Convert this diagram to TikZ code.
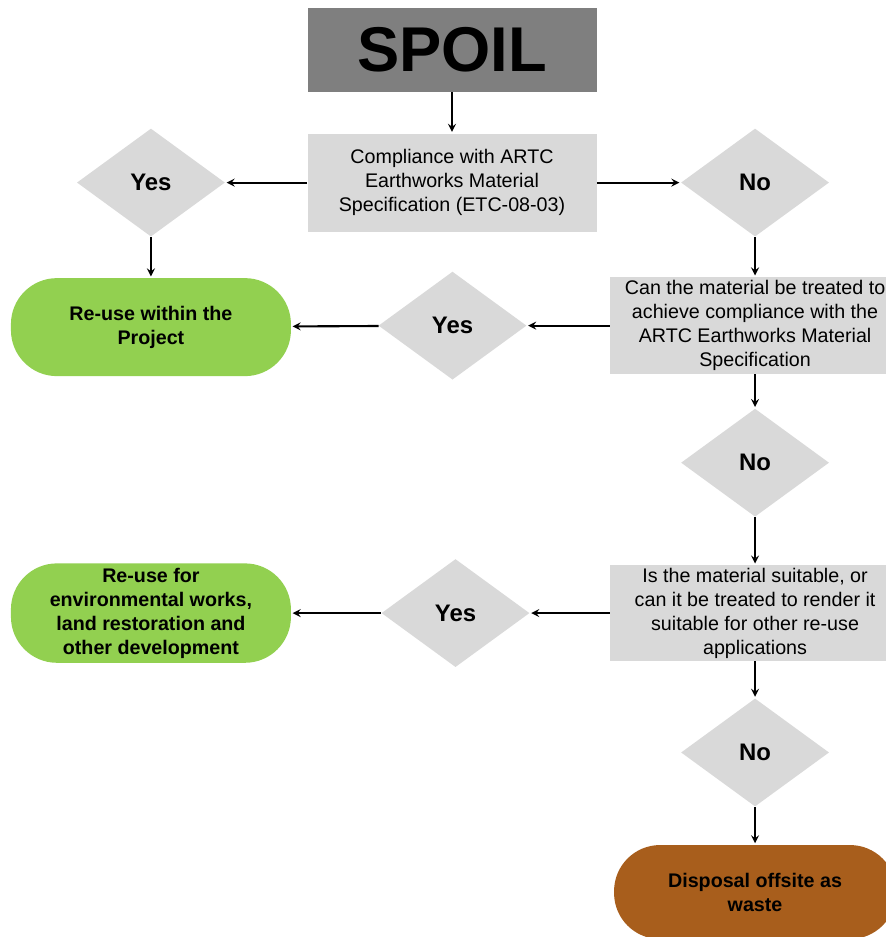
\documentclass[tikz,border=0pt]{standalone}
\usepackage{fontspec}
\setmainfont{Liberation Sans}
\usepackage{tikz}
\usetikzlibrary{positioning,shapes.geometric}
\usepackage{xcolor}
\definecolor{spoilgray}{HTML}{7F7F7F}
\definecolor{boxgray}{HTML}{D9D9D9}
\definecolor{reusegreen}{HTML}{92D050}
\definecolor{wastebrown}{HTML}{A85E1C}

\begin{document}
\begin{tikzpicture}[%
    ->,
    shorten >=1pt,
    >=stealth,
    every edge/.append style={line width=1.5pt},
    node distance=1cm,
    start/.style={%
      rectangle,
      fill=spoilgray,
      minimum width=7.225cm,
      minimum height=2.1cm,
      font=\fontsize{45}{50}\selectfont\bfseries
    },
    question/.style={%
      rectangle,
      fill=boxgray,
      minimum width=7.225cm,
      minimum height=2.45cm,
      inner sep=2pt,
      align=center,
      font=\fontsize{14}{17}\selectfont
    },
    decision/.style={%
      diamond,
      aspect=1.37,
      fill=boxgray,
      minimum width=3.7cm,
      minimum height=2.7cm,
      inner sep=0pt,
      font=\fontsize{17}{20}\selectfont\bfseries
    },
    outcome/.style={%
      rectangle,
      rounded corners=1.15cm,
      fill=reusegreen,
      minimum width=7cm,
      minimum height=2.45cm,
      align=center,
      font=\fontsize{14}{17}\selectfont\bfseries
    }
  ]
    \path[-, use as bounding box, clip] (0,0) rectangle (22.15,-23.425);

    \node[start] (spoil) at (11.3,-1.25)                           {SPOIL};
    \node[question] (comp) [below=1.025cm of spoil]
      {Compliance with ARTC\\Earthworks Material\\Specification (ETC-08-03)};
    \node[decision] (yes1) [left=2.05cm of comp]                   {Yes};
    \node[decision] (no1) [right=2.1cm of comp]                    {No};
    \node[outcome] (reuse1) [below=1.025cm of yes1]                {Re-use within the\\Project};
    \node[question] (treat) [minimum width=7.25cm,minimum height=2.425cm,below=1cm of no1]
      {Can the material be treated to\\achieve compliance with the\\ARTC Earthworks Material\\Specification};
    \node[decision] (yes2) [left=2.075cm of treat]                 {Yes};
    \node[decision] (no2) [below=0.85cm of treat]                  {No};
    \node[question] (suit) [minimum width=7.25cm,minimum height=2.375cm,below=1.2cm of no2]
      {Is the material suitable, or\\can it be treated to render it\\suitable for other re-use\\applications};
    \node[decision] (yes3) [left=2cm of suit]                      {Yes};
    \node[outcome] (reuse2) at (reuse1 |- yes3)
      {Re-use for\\environmental works,\\land restoration and\\other development};
    \node[decision] (no3) [below=0.925cm of suit]                  {No};
    \node[outcome] (disp) [fill=wastebrown,minimum width=7.05cm,minimum height=2.35cm,below=0.95cm of no3]
      {Disposal offsite as\\waste};

    \path (spoil) edge (comp)
          (comp)  edge (yes1)
          (comp)  edge (no1)
          (yes1)  edge (reuse1)
          (no1)   edge (treat)
          (treat) edge (yes2)
          (yes2)  edge (reuse1)
          (treat) edge (no2)
          (no2)   edge (suit)
          (suit)  edge (yes3)
          (yes3)  edge (reuse2)
          (suit)  edge (no3)
          (no3)   edge (disp)
          ;
  \end{tikzpicture}
\end{document}
